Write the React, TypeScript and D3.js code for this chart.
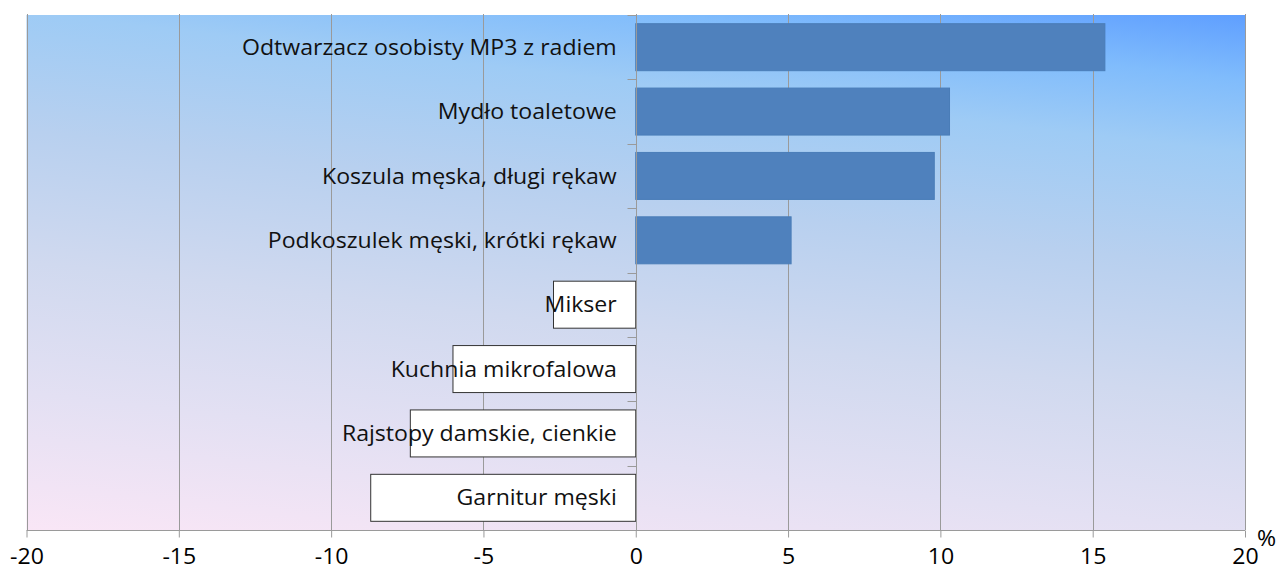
import { useEffect, useRef } from "react";
import * as d3 from "d3";

const categories = [
  "Odtwarzacz osobisty MP3 z radiem",
  "Mydło toaletowe",
  "Koszula męska, długi rękaw",
  "Podkoszulek męski, krótki rękaw",
  "Mikser",
  "Kuchnia mikrofalowa",
  "Rajstopy damskie, cienkie",
  "Garnitur męski",
];
const values = [15.4, 10.3, 9.8, 5.1, -2.7, -6.0, -7.4, -8.7];
const xTicks = [-20, -15, -10, -5, 0, 5, 10, 15, 20];
const unitLabel = "%";

const W = 1279;
const H = 568;
const FONT = "'Open Sans', 'DejaVu Sans', sans-serif";
const FS = 21;
const SX = 1.1; // reference text is horizontally stretched

function App() {
  const ref = useRef<HTMLDivElement>(null);

  useEffect(() => {
    document.body.style.margin = "0";
    const node = ref.current;
    if (!node) return;
    d3.select(node).selectAll("*").remove();

    const m = { top: 15, left: 26.5, right: 34, bottom: 38 };
    const svg = d3
      .select(node)
      .append("svg")
      .attr("width", W)
      .attr("height", H)
      .style("display", "block")
      .style("background", "#fff");

    const x = d3.scaleLinear().domain([-20, 20]).range([m.left, W - m.right]);
    const y = d3
      .scaleBand()
      .domain(categories)
      .range([m.top, H - m.bottom])
      .paddingInner(0.27)
      .paddingOuter(0.135);
    const plotBottom = H - m.bottom;

    // background gradient: mostly vertical, slightly tilted (right side is bluer)
    const x0 = x(20), y0 = m.top;
    const dx = -0.1141, dy = 0.9935;
    const len = (x(-20) - x0) * dx + (plotBottom - y0) * dy;
    const grad = svg
      .append("defs")
      .append("linearGradient")
      .attr("id", "bg")
      .attr("gradientUnits", "userSpaceOnUse")
      .attr("x1", x0)
      .attr("y1", y0)
      .attr("x2", x0 + dx * len)
      .attr("y2", y0 + dy * len);
    [
      [0, "#5f9fff"],
      [0.1, "#80bcfc"],
      [0.21, "#9ecbf5"],
      [0.39, "#b8d0ef"],
      [0.59, "#d0d9ef"],
      [0.79, "#e3e0f3"],
      [1, "#f9e6f6"],
    ].forEach(([o, c]) => grad.append("stop").attr("offset", o as number).attr("stop-color", c as string));

    svg
      .append("rect")
      .attr("x", x(-20))
      .attr("y", m.top)
      .attr("width", x(20) - x(-20))
      .attr("height", plotBottom - m.top)
      .attr("fill", "url(#bg)");

    // vertical grid
    svg
      .append("g")
      .selectAll("line")
      .data(xTicks)
      .enter()
      .append("line")
      .attr("x1", (d) => Math.round(x(d)) + 0.5)
      .attr("x2", (d) => Math.round(x(d)) + 0.5)
      .attr("y1", m.top - 1)
      .attr("y2", plotBottom)
      .attr("stroke", "#9a9a9a")
      .attr("stroke-width", 1);

    // bottom axis
    const axis = svg
      .append("g")
      .attr("transform", `translate(0,${Math.round(plotBottom) + 0.5})`)
      .call(d3.axisBottom(x).tickValues(xTicks).tickSize(7).tickFormat((d) => String(d)));
    axis.select(".domain").attr("stroke", "#9a9a9a").attr("d", `M${x(-20)},0H${x(20)}`);
    axis.selectAll(".tick line").attr("stroke", "#9a9a9a");
    axis
      .selectAll(".tick text")
      .attr("y", 0)
      .attr("dy", 0)
      .attr("transform", `translate(0,33) scale(${SX},1)`)
      .attr("fill", "#000")
      .style("font-family", FONT)
      .style("font-size", `${FS}px`);

    svg
      .append("text")
      .attr("transform", `translate(${x(20) + 12},${plotBottom + 16}) scale(${SX},1)`)
      .attr("font-family", FONT)
      .attr("font-size", FS)
      .attr("fill", "#000")
      .text(unitLabel);

    // bars
    const data = categories.map((c, i) => ({ c, v: values[i] }));
    svg
      .append("g")
      .selectAll("rect")
      .data(data)
      .enter()
      .append("rect")
      .attr("x", (d) => x(Math.min(0, d.v)))
      .attr("y", (d) => y(d.c)!)
      .attr("width", (d) => Math.abs(x(d.v) - x(0)))
      .attr("height", y.bandwidth())
      .attr("fill", (d) => (d.v >= 0 ? "#4f81bd" : "#ffffff"))
      .attr("stroke", (d) => (d.v >= 0 ? "#4a7db8" : "#333"))
      .attr("stroke-width", 1);

    // zero axis with ticks at band boundaries
    const zx = Math.round(x(0)) + 0.5;
    const zAxis = svg.append("g");
    zAxis
      .append("line")
      .attr("x1", zx)
      .attr("x2", zx)
      .attr("y1", m.top - 1)
      .attr("y2", plotBottom)
      .attr("stroke", "#9a9a9a");
    const step = y.step();
    const bounds = d3.range(categories.length + 1).map((i) => m.top + i * step);
    zAxis
      .selectAll("line.t")
      .data(bounds)
      .enter()
      .append("line")
      .attr("class", "t")
      .attr("x1", zx - 9)
      .attr("x2", zx)
      .attr("y1", (d) => Math.round(d) + 0.5)
      .attr("y2", (d) => Math.round(d) + 0.5)
      .attr("stroke", "#9a9a9a");

    // category labels
    svg
      .append("g")
      .selectAll("text")
      .data(categories)
      .enter()
      .append("text")
      .attr("transform", (d) => `translate(${x(0) - 19},${y(d)! + y.bandwidth() / 2}) scale(${SX},1)`)
      .attr("dy", "0.36em")
      .attr("text-anchor", "end")
      .attr("font-family", FONT)
      .attr("font-size", FS)
      .attr("fill", "#111")
      .text((d) => d);
  }, []);

  return <div ref={ref} />;
}

export default App;
